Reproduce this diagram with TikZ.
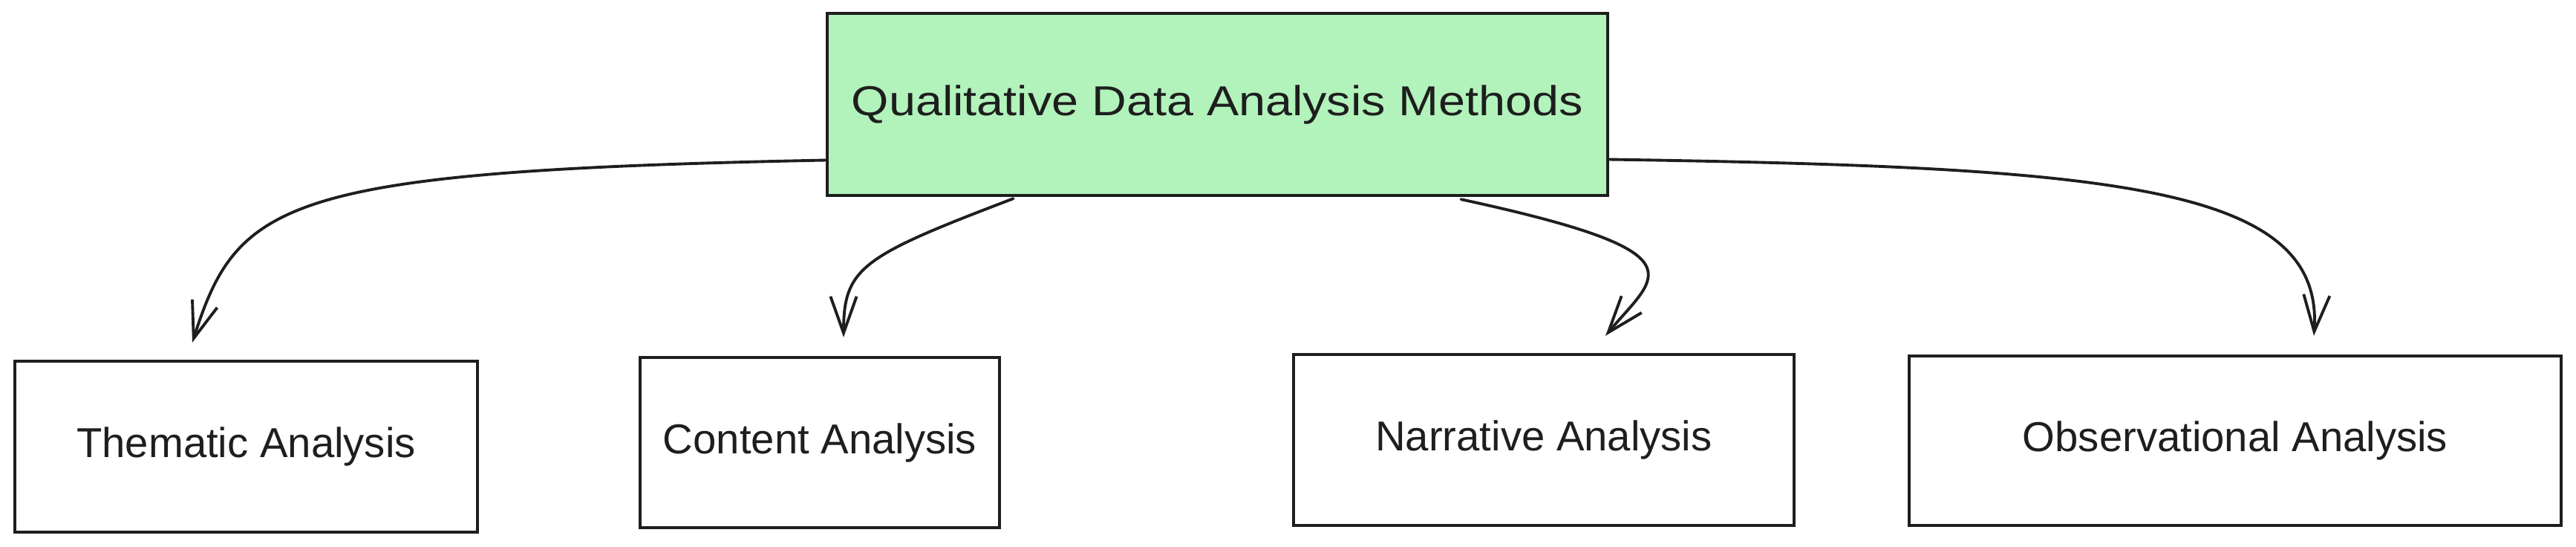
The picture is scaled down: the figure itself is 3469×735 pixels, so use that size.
\documentclass[tikz,border=0pt]{standalone}
\usepackage{fontspec}
\setmainfont{Liberation Sans}
\usetikzlibrary{arrows.meta,calc}
\definecolor{ink}{HTML}{1E1E1E}
\definecolor{mint}{HTML}{B2F2BB}
\begin{document}
\begin{tikzpicture}[x=0.01cm,y=-0.01cm,
  box/.style={draw=ink,line width=1.2pt,inner sep=0pt,align=center,font=\fontsize{16}{19}\selectfont,text=ink},
  link/.style={draw=ink,line width=1.1pt,line cap=round,line join=round,-{Straight Barb[length=14pt,width=10pt]}}]
\useasboundingbox (0,0) rectangle (3469,735);
\node[box,fill=mint,minimum width=10.51cm,minimum height=2.45cm] (qda) at (1639.5,140.5) {\scalebox{1.15}[1]{Qualitative Data Analysis Methods}};
\node[box,minimum width=6.23cm,minimum height=2.30cm] (them) at (331.5,601) {Thematic Analysis};
\node[box,minimum width=4.84cm,minimum height=2.29cm] (cont) at (1104,595.5) {Content Analysis};
\node[box,minimum width=6.74cm,minimum height=2.30cm] (narr) at (2079,592) {Narrative Analysis};
\node[box,minimum width=8.78cm,minimum height=2.28cm] (obs) at (3010,593) {Observational Analysis};
\draw[link] ($(qda.west)+(0,75)$) .. controls (380,230) and (320,270) .. ($(them.north)+(-72.5,-23)$);
\draw[link] ($(qda.south west)+(253,2)$) .. controls (1160,345) and (1136,360) .. ($(cont.north)+(32,-25)$);
\draw[link] ($(qda.south east)+(-200,3)$) .. controls (2300,340) and (2230,370) .. ($(narr.north)+(83,-23)$);
\draw[link] ($(qda.east)+(0,74)$) .. controls (2850,225) and (3130,250) .. ($(obs.north)+(106,-25)$);
\end{tikzpicture}
\end{document}
